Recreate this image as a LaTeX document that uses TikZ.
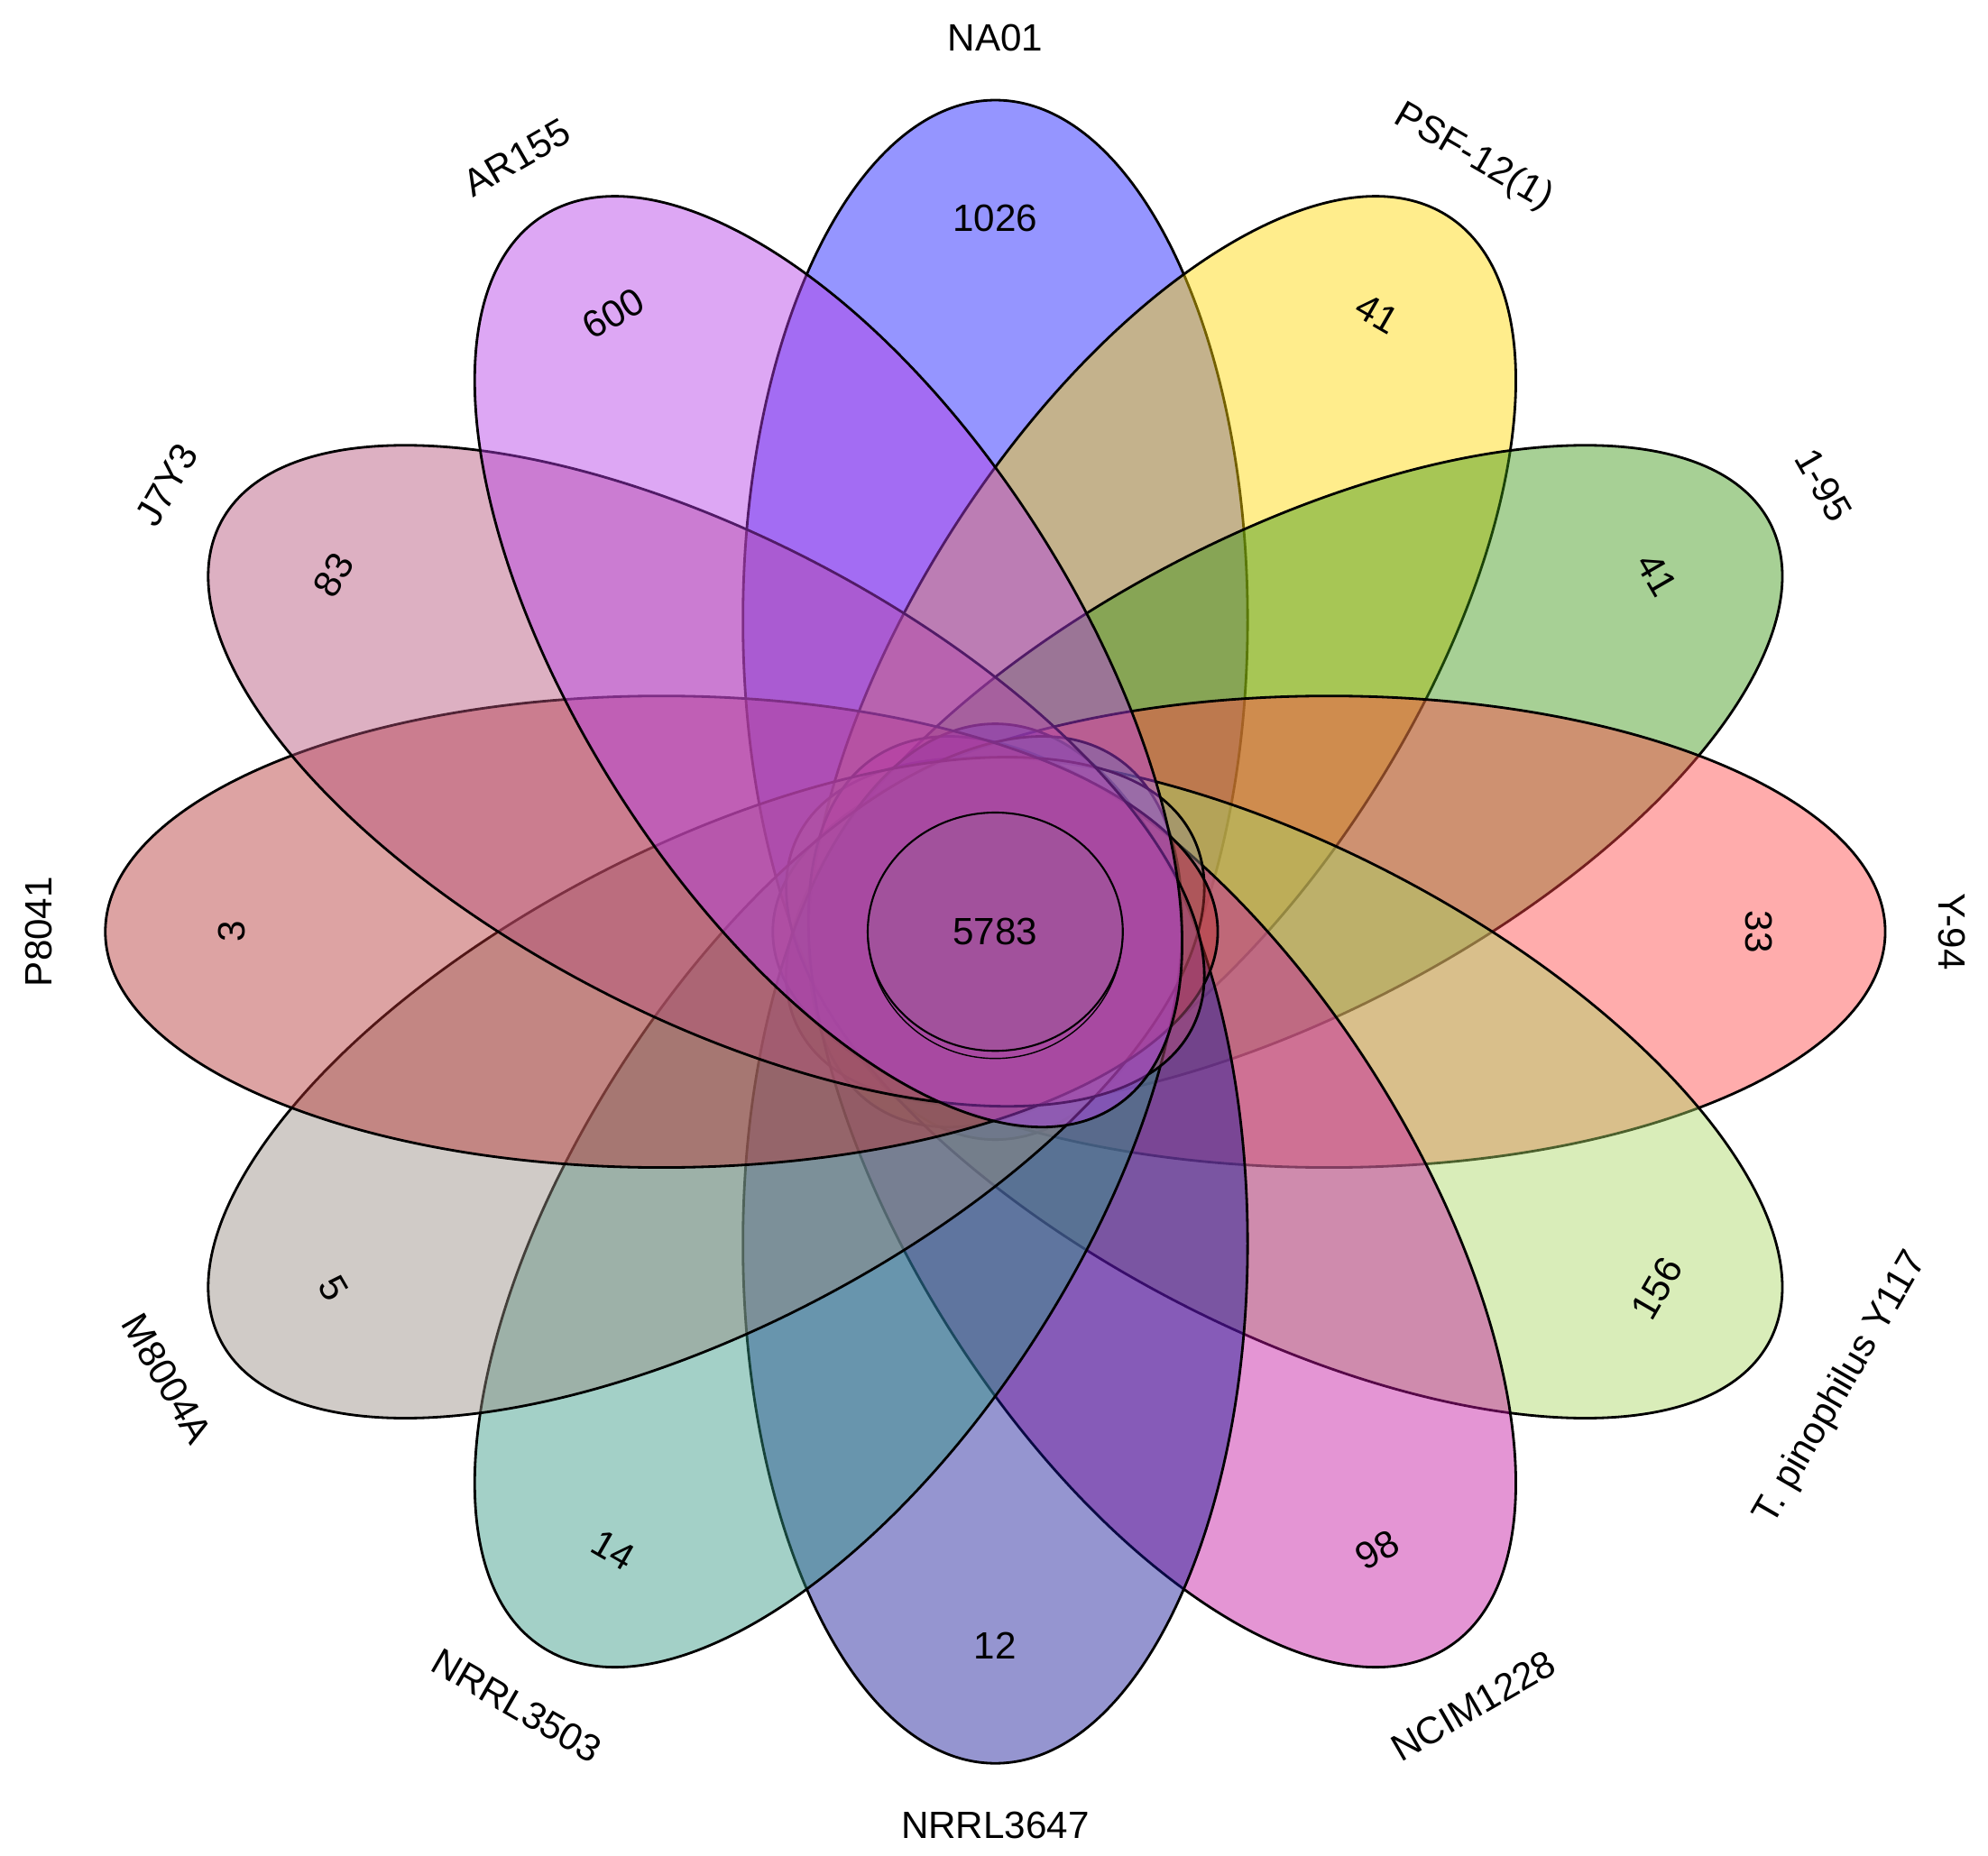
\documentclass[tikz,border=0pt]{standalone}
\usepackage{fontspec}
\setmainfont{Liberation Sans}
\begin{document}
\begin{tikzpicture}[x=1pt,y=1pt,
  petal/.style={draw=black,line width=2pt,fill opacity=0.45},
  lab/.style={font=\fontsize{30}{36}\selectfont,inner sep=0pt},
  num/.style={font=\fontsize{30}{36}\selectfont,inner sep=0pt}]
\useasboundingbox (-785,-729) rectangle (783,735);
\definecolor{cNA}{RGB}{20,20,255}
\definecolor{cPSF}{RGB}{255,215,0}
\definecolor{cOne}{RGB}{60,150,20}
\definecolor{cY}{RGB}{255,70,70}
\definecolor{cT}{RGB}{170,215,100}
\definecolor{cNC}{RGB}{195,20,160}
\definecolor{cNR7}{RGB}{20,20,150}
\definecolor{cNR3}{RGB}{50,150,130}
\definecolor{cM}{RGB}{150,140,130}
\definecolor{cP}{RGB}{180,50,50}
\definecolor{cJ}{RGB}{180,80,120}
\definecolor{cAR}{RGB}{180,60,230}
\begin{scope}[xscale=1.07]
\foreach \a/\c in {90/cNA,60/cPSF,30/cOne,0/cY,-30/cT,-60/cNC,-90/cNR7,-120/cNR3,-150/cM,180/cP,150/cJ,120/cAR}{
  \draw[petal,fill=\c,shift={(\a:246)},rotate=\a] (0,0) ellipse (410 and 186);
}
\draw[line width=1.5pt,fill=gray,fill opacity=0.15] (0,0) circle (94);
\draw[line width=1pt] (-94,0) arc (180:360:94 and 100);
\end{scope}
% labels
\node[lab] (lNA) at ({1.07*705*cos(90)},{705*sin(90)}) {NA01};
\node[lab,rotate=-30] (lPSF) at ({1.07*705*cos(60)},{705*sin(60)}) {PSF-12(1)};
\node[lab,rotate=-60] (lOne) at ({1.07*705*cos(30)},{705*sin(30)}) {1-95};
\node[lab,rotate=-90] (lY) at ({1.07*705*cos(0)},{705*sin(0)}) {Y-94};
\node[lab,rotate=60] (lT) at ({1.07*720*cos(-30)},{720*sin(-30)}) {T. pinophilus Y117};
\node[lab,rotate=30] (lNC) at ({1.07*705*cos(-60)},{705*sin(-60)}) {NCIM1228};
\node[lab] (lNR7) at ({1.07*705*cos(-90)},{705*sin(-90)}) {NRRL3647};
\node[lab,rotate=-30] (lNR3) at ({1.07*705*cos(-120)},{705*sin(-120)}) {NRRL3503};
\node[lab,rotate=-60] (lM) at ({1.07*705*cos(-150)},{705*sin(-150)}) {M8004A};
\node[lab,rotate=90] (lP) at ({1.07*705*cos(180)},{705*sin(180)}) {P8041};
\node[lab,rotate=60] (lJ) at ({1.07*705*cos(150)},{705*sin(150)}) {J7Y3};
\node[lab,rotate=30] (lAR) at ({1.07*705*cos(120)},{705*sin(120)}) {AR155};
% numbers
\node[num] (nNA) at ({1.07*563*cos(90)},{563*sin(90)}) {1026};
\node[num,rotate=-30] (nPSF) at ({1.07*563*cos(60)},{563*sin(60)}) {41};
\node[num,rotate=-60] (nOne) at ({1.07*563*cos(30)},{563*sin(30)}) {41};
\node[num,rotate=-90] (nY) at ({1.07*563*cos(0)},{563*sin(0)}) {33};
\node[num,rotate=60] (nT) at ({1.07*563*cos(-30)},{563*sin(-30)}) {156};
\node[num,rotate=30] (nNC) at ({1.07*563*cos(-60)},{563*sin(-60)}) {98};
\node[num] (nNR7) at ({1.07*563*cos(-90)},{563*sin(-90)}) {12};
\node[num,rotate=-30] (nNR3) at ({1.07*563*cos(-120)},{563*sin(-120)}) {14};
\node[num,rotate=-60] (nM) at ({1.07*563*cos(-150)},{563*sin(-150)}) {5};
\node[num,rotate=90] (nP) at ({1.07*563*cos(180)},{563*sin(180)}) {3};
\node[num,rotate=60] (nJ) at ({1.07*563*cos(150)},{563*sin(150)}) {83};
\node[num,rotate=30] (nAR) at ({1.07*563*cos(120)},{563*sin(120)}) {600};
\node[num] (nC) at (0,0) {5783};
\end{tikzpicture}
\end{document}
